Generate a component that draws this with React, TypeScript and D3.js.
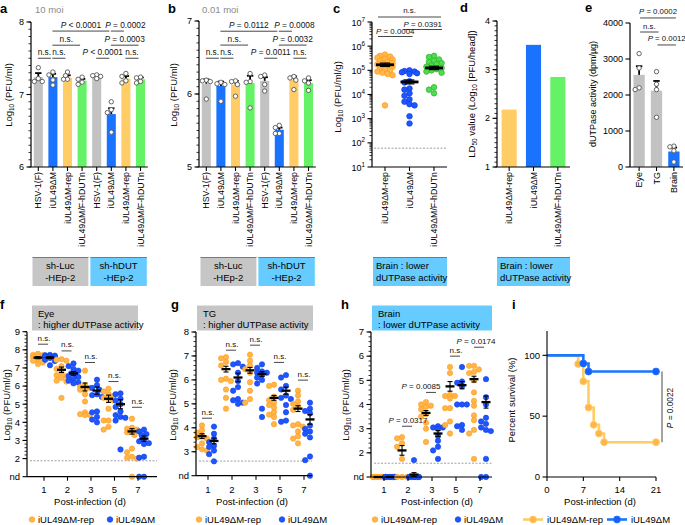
import React from 'react';
import * as d3 from 'd3';

const FONT = "'Liberation Sans', Arial, Helvetica, sans-serif";

// ---------- Panel a / b data ----------
const abLabels = ['HSV-1(F)', 'iUL49ΔM', 'iUL49ΔM-rep', 'iUL49ΔM/F-hDUTn', 'HSV-1(F)', 'iUL49ΔM', 'iUL49ΔM-rep', 'iUL49ΔM/F-hDUTn'];
const aMeans = [7.24, 7.24, 7.23, 7.19, 7.24, 6.73, 7.22, 7.21];
const aSems = [0.055, 0.045, 0.035, 0.025, 0.02, 0.08, 0.035, 0.025];
const aPoints = [
  [7.37, 7.22, 7.18, 7.18],
  [7.31, 7.27, 7.2, 7.13],
  [7.31, 7.26, 7.21, 7.21],
  [7.24, 7.21, 7.17, 7.14],
  [7.27, 7.26, 7.25, 7.22],
  [6.9, 6.79, 6.75, 6.48],
  [7.29, 7.25, 7.19, 7.16],
  [7.24, 7.23, 7.18, 7.16],
];
const aBrackets = [
  { i: 0, j: 1, v: 7.5, label: 'n.s.' },
  { i: 1, j: 2, v: 7.5, label: 'n.s.' },
  { i: 1, j: 3, v: 7.68, label: 'n.s.' },
  { i: 1, j: 5, v: 7.875, label: 'P < 0.0001' },
  { i: 4, j: 5, v: 7.5, label: 'P < 0.0001' },
  { i: 6, j: 7, v: 7.5, label: 'n.s.' },
  { i: 5, j: 6, v: 7.875, label: 'P = 0.0002', dx: 8 },
  { i: 5, j: 7, v: 7.68, label: 'P = 0.0003' },
];
const bMeans = [6.14, 6.11, 6.13, 6.15, 6.18, 5.51, 6.2, 6.15];
const bSems = [0.06, 0.06, 0.05, 0.1, 0.05, 0.03, 0.04, 0.04];
const bPoints = [
  [6.19, 6.18, 6.17, 5.93],
  [6.16, 6.14, 6.13, 5.9],
  [6.18, 6.17, 6.13, 5.97],
  [6.28, 6.17, 6.16, 5.81],
  [6.26, 6.24, 6.13, 6.04],
  [5.57, 5.54, 5.46, 5.46],
  [6.24, 6.22, 6.19, 6.06],
  [6.22, 6.18, 6.15, 6.05],
];
const bBrackets = [
  { i: 0, j: 1, v: 6.49, label: 'n.s.' },
  { i: 1, j: 2, v: 6.49, label: 'n.s.' },
  { i: 1, j: 3, v: 6.67, label: 'n.s.' },
  { i: 1, j: 5, v: 6.86, label: 'P = 0.0112' },
  { i: 4, j: 5, v: 6.49, label: 'P = 0.0011' },
  { i: 6, j: 7, v: 6.49, label: 'n.s.' },
  { i: 5, j: 6, v: 6.86, label: 'P = 0.0008', dx: 9 },
  { i: 5, j: 7, v: 6.67, label: 'P = 0.0032' },
];

// ---------- Panel c ----------
const cLabels = ['iUL49ΔM-rep', 'iUL49ΔM', 'iUL49ΔM/F-hDUTn'];
const cRep = [5.65, 5.6, 5.57, 5.52, 5.48, 5.45, 5.4, 5.35, 5.3, 5.28, 5.25, 5.2, 5.15, 5.1, 5.05, 5.0, 4.95, 4.9, 4.85, 4.8, 3.55];
const cDel = [5.0, 4.97, 4.95, 4.92, 4.88, 4.85, 4.55, 4.5, 4.25, 4.2, 4.05, 3.95, 3.8, 3.7, 3.6, 3.55, 3.1, 2.8];
const cHd = [5.6, 5.55, 5.45, 5.4, 5.35, 5.3, 5.25, 5.2, 5.15, 5.1, 5.05, 5.0, 4.95, 4.9, 4.3, 4.2, 4.05];
const cMeans = [5.23, 4.52, 5.1];
const cSems = [0.07, 0.08, 0.07];
const cLimit = 60;

// ---------- Panel d ----------
const dLabels = ['iUL49ΔM-rep', 'iUL49ΔM', 'iUL49ΔM/F-hDUTn'];
const dValues = [2.18, 3.51, 2.85];

// ---------- Panel e ----------
const eLabels = ['Eye', 'TG', 'Brain'];
const eMeans = [2560, 2120, 430];
const eSems = [240, 270, 110];
const ePoints = [
  [3150, 2750, 2200, 2150],
  [2650, 2300, 2150, 1380],
  [580, 560, 450, 140],
];

// ---------- Panels f, g, h ----------
const days = [1, 2, 3, 5, 7];
const fRep = [
  [7.78, 7.72, 7.7, 7.65, 7.6, 7.55, 7.5, 7.4, 7.3, 7.22],
  [7.48, 7.45, 7.4, 7.1, 6.95, 6.75, 6.6, 6.55, 6.45, 6.3, 6.25, 5.35],
  [6.85, 6.05, 5.95, 5.9, 5.85, 5.8, 5.55, 5.15, 4.55, 4.45, 4.4, 4.4],
  [5.85, 5.7, 5.55, 5.45, 5.35, 5.3, 5.2, 4.75, 4.1, 4.1, 3.75, 3.6],
  [4.2, 3.7, 3.65, 3.6, 3.55, 3.45, 3.3, 2.55, 2.35, 2.1, 2.05, 2.0, 1.0],
];
const fDel = [
  [7.72, 7.7, 7.68, 7.65, 7.62, 7.6, 7.55, 7.45, 7.38, 7.15],
  [7.25, 7.1, 6.95, 6.85, 6.7, 6.6, 6.55, 6.5, 6.4, 6.3, 6.2, 6.15],
  [6.35, 6.05, 5.9, 5.8, 5.55, 5.5, 5.4, 4.6, 4.55, 4.3, 4.15, 4.0],
  [5.6, 5.55, 5.3, 5.2, 5.0, 4.85, 4.6, 4.4, 4.3, 4.25, 4.1, 2.5],
  [3.6, 3.5, 3.35, 3.3, 3.05, 2.95, 2.85, 2.8, 2.1, 2.05, 1.0, 1.0],
];
const fRepMean = [7.57, 6.9, 5.95, 5.3, 3.5];
const fRepSem = [0.06, 0.15, 0.22, 0.2, 0.15];
const fDelMean = [7.57, 6.7, 5.75, 5.0, 3.1];
const fDelSem = [0.05, 0.1, 0.2, 0.25, 0.15];
const fSig = [
  { v: 8.31, label: 'n.s.' }, { v: 7.94, label: 'n.s.' }, { v: 7.3, label: 'n.s.' },
  { v: 6.25, label: 'n.s.' }, { v: 4.83, label: 'n.s.' },
];

const gRep = [
  [4.1, 3.9, 3.8, 3.7, 3.6, 3.55, 3.35, 3.2, 3.1, 3.05],
  [6.95, 6.9, 6.75, 6.6, 6.05, 6.0, 5.95, 5.6, 5.25, 4.8],
  [7.05, 6.8, 6.6, 6.45, 6.3, 5.9, 5.55, 5.2, 5.05],
  [5.8, 5.75, 5.3, 5.15, 5.05, 4.95, 4.85, 4.65, 4.55, 4.45, 4.15],
  [5.55, 5.35, 5.1, 5.0, 4.9, 4.75, 4.15, 4.1, 4.05, 3.85, 3.65, 3.55, 3.35],
];
const gDel = [
  [4.05, 3.75, 3.55, 3.4, 3.25, 3.2, 3.05, 2.9, 2.6],
  [6.7, 6.65, 6.55, 6.3, 5.95, 5.7, 5.55, 5.2, 5.15, 5.05, 5.0],
  [6.65, 6.5, 6.35, 6.3, 6.3, 6.2, 6.1, 6.0, 5.85, 4.8, 4.45],
  [6.2, 6.1, 5.75, 5.6, 5.35, 5.25, 5.2, 4.95, 4.65, 4.3, 4.25],
  [5.05, 4.8, 4.7, 4.6, 4.1, 3.95, 3.85, 3.75, 3.6, 2.8, 2.65, 2.0],
];
const gRepMean = [3.65, 6.45, 6.4, 5.25, 4.8];
const gRepSem = [0.1, 0.12, 0.12, 0.1, 0.12];
const gDelMean = [3.45, 6.1, 6.25, 5.55, 4.35];
const gDelSem = [0.12, 0.18, 0.1, 0.15, 0.2];
const gSig = [
  { v: 4.4, label: 'n.s.' }, { v: 7.24, label: 'n.s.' }, { v: 7.45, label: 'n.s.' },
  { v: 6.73, label: 'n.s.' }, { v: 5.99, label: 'n.s.' },
];

const hRep = [
  [1, 1, 1, 1, 1, 1, 1, 1, 1],
  [2.65, 2.6, 2.4, 2.25, 1.75, 1.0, 1.0, 1.0],
  [4.1, 4.0, 3.95, 3.9, 3.8, 3.6, 3.5, 3.25, 3.0, 2.45],
  [5.55, 5.3, 4.4, 4.35, 4.35, 4.25, 3.85, 3.85, 3.3, 3.15, 2.8],
  [5.6, 5.6, 5.45, 5.35, 5.3, 5.0, 4.5, 4.15, 3.95, 3.55, 3.35, 2.95, 2.8, 1.75],
];
const hDel = [
  [1, 1, 1, 1, 1, 1, 1, 1, 1, 1],
  [1.7, 1, 1, 1, 1, 1, 1, 1, 1],
  [3.1, 3.05, 3.05, 3.0, 2.7, 2.5, 2.25, 2.1, 1.75],
  [5.55, 4.95, 4.9, 4.75, 4.0, 4.0, 4.0, 3.15, 3.1, 2.95],
  [5.05, 4.3, 4.0, 3.45, 3.3, 3.2, 3.05, 2.95, 2.9, 1.75, 1.0, 1.0],
];
const hRepMean = [1.0, 2.1, 3.65, 4.75, 5.05];
const hRepSem = [0, 0.2, 0.1, 0.2, 0.12];
const hDelMean = [1.0, 1.1, 2.8, 4.8, 4.1];
const hDelSem = [0, 0.08, 0.12, 0.15, 0.25];
const hSig = [
  null, { v: 3.1, label: 'P = 0.0317' }, { v: 4.5, label: 'P = 0.0085', dx: -11 },
  { v: 6.0, label: 'n.s.' }, { v: 6.37, label: 'P = 0.0174', dx: -4 },
];

// ---------- Panel i ----------
const iRepDays = [0, 6, 7, 8, 9, 10, 11, 21];
const iRepSurv = [100, 92.9, 78.6, 57.1, 42.9, 35.7, 28.6, 28.6];
const iDelDays = [0, 7, 8, 21];
const iDelSurv = [100, 93.3, 86.7, 86.7];

const COL = {
  gray: '#c2c2c2', blue: '#1a73ff', orange: '#ffcc66', green: '#66f266',
  boxGray: '#c6c6c6', boxBlue: '#66ccff',
};
const barColors = [COL.gray, COL.blue, COL.orange, COL.green, COL.gray, COL.blue, COL.orange, COL.green];

function swarm(vals: number[], ypx: (v: number) => number, cx: number, r: number, maxW: number) {
  const idx = vals.map((_, i) => i).sort((a, b) => vals[b] - vals[a]);
  const placed: [number, number][] = [];
  const out: [number, number][] = new Array(vals.length);
  const step = r * 0.9;
  const dmin = 2 * r * 0.85;
  for (const i of idx) {
    const yy = ypx(vals[i]);
    let best = 0, bestOv = Infinity;
    for (let k = 0; k < 40; k++) {
      const off = (k % 2 === 1 ? -1 : 1) * Math.ceil(k / 2) * step;
      if (Math.abs(off) > maxW) continue;
      let ov = 0;
      for (const [px, py] of placed) {
        const d = Math.hypot(px - cx - off, py - yy);
        if (d < dmin) ov += dmin - d;
      }
      if (ov < bestOv - 1e-9) { bestOv = ov; best = off; }
      if (ov === 0) break;
    }
    out[i] = [cx + best, yy];
    placed.push(out[i]);
  }
  return out;
}

function PLabel({ x, y, label, size = 8.3, anchor = 'middle', transform }: any) {
  if (label.startsWith('P')) {
    return (
      <text x={x} y={y} fontSize={size} textAnchor={anchor} transform={transform} fill="#111">
        <tspan fontStyle="italic">P</tspan>{label.slice(1)}
      </text>
    );
  }
  return <text x={x} y={y} fontSize={size} textAnchor={anchor} transform={transform} fill="#111">{label}</text>;
}

function YLabel({ x, y, pre, sub, post, size = 9.5 }: any) {
  return (
    <text transform={`translate(${x},${y}) rotate(-90)`} textAnchor="middle" fontSize={size} fill="#111">
      {pre}
      {sub !== undefined && <tspan dy={2.2} fontSize={size * 0.68}>{sub}</tspan>}
      {sub !== undefined && <tspan dy={-2.2}>{post}</tspan>}
    </text>
  );
}

function PanelAB({ letter, letterX, title, titleX, axisX, axisEnd, yDom, yTop, means, sems, pts, brackets, ylabelX }: any) {
  const yB = 167;
  const y = d3.scaleLinear().domain(yDom).range([yB, yTop]);
  const xb = d3.scaleBand<number>().domain(d3.range(8)).range([axisX, axisEnd]).paddingInner(0.38).paddingOuter(0.19);
  const cx = (i: number) => (xb(i) as number) + xb.bandwidth() / 2;
  const majors = [yDom[0], yDom[0] + 1, yDom[0] + 2];
  const minors = d3.range(0, 21).map((k) => yDom[0] + k * 0.1);
  const mid = (cx(3) + cx(4)) / 2;
  return (
    <g>
      <text x={letterX} y={13} fontSize={13} fontWeight="bold">{letter}</text>
      <text x={titleX} y={13} fontSize={9.5} fill="#8a8a8a">{title}</text>
      <YLabel x={ylabelX} y={95} pre="Log" sub="10" post=" (PFU/ml)" />
      {means.map((m: number, i: number) => (
        <rect key={i} x={xb(i)} y={y(m)} width={xb.bandwidth()} height={yB - y(m)} fill={barColors[i]} />
      ))}
      {means.map((m: number, i: number) => (
        <g key={'e' + i} stroke="#000" strokeWidth={1.8}>
          <line x1={cx(i)} x2={cx(i)} y1={y(m)} y2={y(m + sems[i])} />
          <line x1={cx(i) - 3.2} x2={cx(i) + 3.2} y1={y(m + sems[i])} y2={y(m + sems[i])} />
        </g>
      ))}
      {pts.map((arr: number[], i: number) =>
        swarm(arr, y, cx(i), 2.2, 4).map(([px, py], k) => (
          <circle key={i + '-' + k} cx={px} cy={py} r={2.2} fill="#fff" stroke="#555" strokeWidth={0.9} />
        ))
      )}
      <line x1={axisX} x2={axisX} y1={yB} y2={yTop} stroke="#000" strokeWidth={1.2} />
      <line x1={axisX} x2={axisEnd} y1={yB} y2={yB} stroke="#000" strokeWidth={1.2} />
      {minors.map((v, k) => (
        <line key={k} x1={axisX - 2.5} x2={axisX} y1={y(v)} y2={y(v)} stroke="#000" strokeWidth={0.8} />
      ))}
      {majors.map((v) => (
        <g key={v}>
          <line x1={axisX - 4.5} x2={axisX} y1={y(v)} y2={y(v)} stroke="#000" strokeWidth={1.1} />
          <text x={axisX - 7} y={y(v)} dy="0.35em" fontSize={9} textAnchor="end">{v}</text>
        </g>
      ))}
      {abLabels.map((l, i) => (
        <g key={'x' + i}>
          <line x1={cx(i)} x2={cx(i)} y1={yB} y2={yB + 4} stroke="#000" strokeWidth={1.1} />
          <text transform={`translate(${cx(i)},${172}) rotate(-90)`} dy="0.35em" fontSize={8.8} textAnchor="end">{l}</text>
        </g>
      ))}
      {brackets.map((b: any, k: number) => {
        const yy = y(b.v);
        const x1 = cx(b.i) - 0.5, x2 = cx(b.j) - 2;
        return (
          <g key={'b' + k}>
            <line x1={x1} x2={x2} y1={yy} y2={yy} stroke="#333" strokeWidth={0.9} />
            <PLabel x={(x1 + x2) / 2 + (b.dx || 0)} y={yy - 3.5} label={b.label} />
          </g>
        );
      })}
      <rect x={axisX + 1.5} y={257} width={mid - axisX - 2.5} height={29} fill={COL.boxGray} />
      <line x1={axisX + 1.5} x2={mid - 1} y1={257.5} y2={257.5} stroke="#7a7a7a" strokeWidth={1.2} />
      <rect x={mid + 1} y={257} width={axisEnd - mid - 2} height={29} fill={COL.boxBlue} />
      <line x1={mid + 1} x2={axisEnd - 1} y1={257.5} y2={257.5} stroke="#7a7a7a" strokeWidth={1.2} />
      <text x={(axisX + mid) / 2} y={269} fontSize={9.5} textAnchor="middle">sh-Luc</text>
      <text x={(axisX + mid) / 2} y={281} fontSize={9.5} textAnchor="middle">-HEp-2</text>
      <text x={(mid + axisEnd) / 2} y={269} fontSize={9.5} textAnchor="middle">sh-hDUT</text>
      <text x={(mid + axisEnd) / 2} y={281} fontSize={9.5} textAnchor="middle">-HEp-2</text>
    </g>
  );
}

function BrainBox({ x0, x1 }: any) {
  return (
    <g>
      <rect x={x0} y={257} width={x1 - x0} height={29} fill={COL.boxBlue} />
      <line x1={x0} x2={x1} y1={257.5} y2={257.5} stroke="#7a7a7a" strokeWidth={1.2} />
      <text x={x0 + 3} y={269} fontSize={9.5}>Brain : lower</text>
      <text x={x0 + 3} y={281} fontSize={9.5}>dUTPase activity</text>
    </g>
  );
}

function PanelC() {
  const axisX = 372, axisEnd = 447, yB = 167;
  const y = d3.scaleLog().domain([10, 1e7]).range([yB, 22]);
  const xb = d3.scalePoint<number>().domain([0, 1, 2]).range([385, 434]);
  const groups = [cRep, cDel, cHd];
  const fills = ['#ffb84d', '#1f55ff', '#4fdc4f'];
  const strokes = ['#ff9a1a', '#0b3fe6', '#2bb02b'];
  const majors = d3.range(1, 8);
  const minors: number[] = [];
  for (let e = 1; e < 7; e++) for (let m = 2; m < 10; m++) minors.push(m * Math.pow(10, e));
  const ylog = (v: number) => y(Math.pow(10, v));
  const cxs = [0, 1, 2].map((i) => xb(i) as number);
  const brk = [
    { x1: cxs[0] - 7, x2: cxs[2] + 7, py: 17, ty: 13, label: 'n.s.' },
    { x1: cxs[1] - 6, x2: cxs[2] + 8, py: 29.5, ty: 26.5, label: 'P = 0.0391' },
    { x1: cxs[0] - 7, x2: cxs[1] + 3, py: 36.5, ty: 34, label: 'P = 0.0004' },
  ];
  return (
    <g>
      <text x={333} y={13} fontSize={13} fontWeight="bold">c</text>
      <YLabel x={341} y={97} pre="Log" sub="10" post=" (PFU/ml/g)" />
      <line x1={axisX + 2} x2={axisEnd} y1={y(cLimit)} y2={y(cLimit)} stroke="#888" strokeWidth={0.8} strokeDasharray="2,1.5" />
      {groups.map((arr, g) =>
        swarm(arr, ylog, cxs[g], 2.8, 9).map(([px, py], k) => (
          <circle key={g + '-' + k} cx={px} cy={py} r={2.8} fill={fills[g]} stroke={strokes[g]} strokeWidth={0.7} />
        ))
      )}
      {cMeans.map((m, g) => (
        <g key={'m' + g} stroke="#000">
          <line x1={cxs[g] - 9} x2={cxs[g] + 9} y1={ylog(m)} y2={ylog(m)} strokeWidth={2.8} />
          <line x1={cxs[g]} x2={cxs[g]} y1={ylog(m - cSems[g])} y2={ylog(m + cSems[g])} strokeWidth={1.4} />
          <line x1={cxs[g] - 5} x2={cxs[g] + 5} y1={ylog(m - cSems[g])} y2={ylog(m - cSems[g])} strokeWidth={1.2} />
          <line x1={cxs[g] - 5} x2={cxs[g] + 5} y1={ylog(m + cSems[g])} y2={ylog(m + cSems[g])} strokeWidth={1.2} />
        </g>
      ))}
      <line x1={axisX} x2={axisX} y1={yB} y2={22} stroke="#000" strokeWidth={1.2} />
      <line x1={axisX} x2={axisEnd} y1={yB} y2={yB} stroke="#000" strokeWidth={1.2} />
      {minors.map((v, k) => (
        <line key={k} x1={axisX - 2.5} x2={axisX} y1={y(v)} y2={y(v)} stroke="#000" strokeWidth={0.8} />
      ))}
      {majors.map((e) => (
        <g key={e}>
          <line x1={axisX - 4.5} x2={axisX} y1={y(Math.pow(10, e))} y2={y(Math.pow(10, e))} stroke="#000" strokeWidth={1.1} />
          <text x={axisX - 7} y={y(Math.pow(10, e)) + 3.5} fontSize={9} textAnchor="end">
            10<tspan dy={-4} fontSize={6.3}>{e}</tspan>
          </text>
        </g>
      ))}
      {cLabels.map((l, i) => (
        <g key={'x' + i}>
          <line x1={cxs[i]} x2={cxs[i]} y1={yB} y2={yB + 4} stroke="#000" strokeWidth={1.1} />
          <text transform={`translate(${cxs[i]},${172}) rotate(-90)`} dy="0.35em" fontSize={8.8} textAnchor="end">{l}</text>
        </g>
      ))}
      {brk.map((b, k) => (
        <g key={'b' + k}>
          <line x1={b.x1} x2={b.x2} y1={b.py} y2={b.py} stroke="#333" strokeWidth={0.9} />
          <PLabel x={(b.x1 + b.x2) / 2} y={b.ty} label={b.label} size={7.9} />
        </g>
      ))}
      <BrainBox x0={373} x1={447} />
    </g>
  );
}

function PanelD() {
  const axisX = 497, axisEnd = 570, yB = 167;
  const y = d3.scaleLinear().domain([1, 4]).range([yB, 21]);
  const xb = d3.scaleBand<number>().domain([0, 1, 2]).range([axisX, axisEnd]).paddingInner(0.38).paddingOuter(0.19);
  const cx = (i: number) => (xb(i) as number) + xb.bandwidth() / 2;
  const cols = [COL.orange, COL.blue, COL.green];
  const minors = d3.range(0, 31).map((k) => 1 + k * 0.1);
  return (
    <g>
      <text x={460} y={12} fontSize={13} fontWeight="bold">d</text>
      <text transform={`translate(${475},${94}) rotate(-90)`} textAnchor="middle" fontSize={9.5}>
        LD<tspan dy={2.2} fontSize={6.5}>50</tspan><tspan dy={-2.2}> value (Log</tspan><tspan dy={2.2} fontSize={6.5}>10</tspan><tspan dy={-2.2}> [PFU/head])</tspan>
      </text>
      {dValues.map((v, i) => (
        <rect key={i} x={xb(i)} y={y(v)} width={xb.bandwidth()} height={yB - y(v)} fill={cols[i]} />
      ))}
      <line x1={axisX} x2={axisX} y1={yB} y2={21} stroke="#000" strokeWidth={1.2} />
      <line x1={axisX} x2={axisEnd} y1={yB} y2={yB} stroke="#000" strokeWidth={1.2} />
      {minors.map((v, k) => (
        <line key={k} x1={axisX - 2.5} x2={axisX} y1={y(v)} y2={y(v)} stroke="#000" strokeWidth={0.8} />
      ))}
      {[1, 2, 3, 4].map((v) => (
        <g key={v}>
          <line x1={axisX - 4.5} x2={axisX} y1={y(v)} y2={y(v)} stroke="#000" strokeWidth={1.1} />
          <text x={axisX - 7} y={y(v)} dy="0.35em" fontSize={9} textAnchor="end">{v}</text>
        </g>
      ))}
      {dLabels.map((l, i) => (
        <g key={'x' + i}>
          <line x1={cx(i)} x2={cx(i)} y1={yB} y2={yB + 4} stroke="#000" strokeWidth={1.1} />
          <text transform={`translate(${cx(i)},${172}) rotate(-90)`} dy="0.35em" fontSize={8.8} textAnchor="end">{l}</text>
        </g>
      ))}
      <BrainBox x0={497} x1={570} />
    </g>
  );
}

function PanelE() {
  const axisX = 630, axisEnd = 683, yB = 167;
  const y = d3.scaleLinear().domain([0, 4000]).range([yB, 23]);
  const xb = d3.scaleBand<number>().domain([0, 1, 2]).range([axisX, axisEnd]).paddingInner(0.35).paddingOuter(0.2);
  const cx = (i: number) => (xb(i) as number) + xb.bandwidth() / 2;
  const cols = [COL.gray, COL.gray, COL.blue];
  const brk = [
    { i: 0, j: 2, v: 4140, label: 'P = 0.0002' },
    { i: 0, j: 1, v: 3750, label: 'n.s.' },
    { i: 1, j: 2, v: 3390, label: 'P = 0.0012' },
  ];
  return (
    <g>
      <text x={585} y={12} fontSize={13} fontWeight="bold">e</text>
      <text transform={`translate(${596},${94}) rotate(-90)`} textAnchor="middle" fontSize={9}>dUTPase activity (dpm/µg)</text>
      {eMeans.map((m, i) => (
        <rect key={i} x={xb(i)} y={y(m)} width={xb.bandwidth()} height={yB - y(m)} fill={cols[i]} />
      ))}
      {eMeans.map((m, i) => (
        <g key={'e' + i} stroke="#000" strokeWidth={1.8}>
          <line x1={cx(i)} x2={cx(i)} y1={y(m)} y2={y(m + eSems[i])} />
          <line x1={cx(i) - 3.2} x2={cx(i) + 3.2} y1={y(m + eSems[i])} y2={y(m + eSems[i])} />
        </g>
      ))}
      {ePoints.map((arr, i) =>
        swarm(arr, y, cx(i), 2.2, 4).map(([px, py], k) => (
          <circle key={i + '-' + k} cx={px} cy={py} r={2.2} fill="#fff" stroke="#555" strokeWidth={0.9} />
        ))
      )}
      <line x1={axisX} x2={axisX} y1={yB} y2={23} stroke="#000" strokeWidth={1.2} />
      <line x1={axisX} x2={axisEnd} y1={yB} y2={yB} stroke="#000" strokeWidth={1.2} />
      {[0, 1000, 2000, 3000, 4000].map((v) => (
        <g key={v}>
          <line x1={axisX - 4.5} x2={axisX} y1={y(v)} y2={y(v)} stroke="#000" strokeWidth={1.1} />
          <text x={axisX - 7} y={y(v)} dy="0.35em" fontSize={9} textAnchor="end">{v}</text>
        </g>
      ))}
      {eLabels.map((l, i) => (
        <g key={'x' + i}>
          <line x1={cx(i)} x2={cx(i)} y1={yB} y2={yB + 4} stroke="#000" strokeWidth={1.1} />
          <text transform={`translate(${cx(i)},${172}) rotate(-90)`} dy="0.35em" fontSize={9} textAnchor="end">{l}</text>
        </g>
      ))}
      {brk.map((b, k) => {
        const yy = y(b.v);
        const x1 = cx(b.i) + 1, x2 = cx(b.j) + 2;
        return (
          <g key={'b' + k}>
            <line x1={x1} x2={x2} y1={yy} y2={yy} stroke="#333" strokeWidth={0.9} />
            <PLabel x={(x1 + x2) / 2} y={yy - 3.5} label={b.label} size={7.8} />
          </g>
        );
      })}
    </g>
  );
}

function ScatterPanel({ letter, letterX, axisX, axisEnd, yDom, yBottom, yTop, xRange, rep, del, repMean, repSem, delMean, delSem, sig, limit, box, ylabelX, legendO, legendB, xlabelX }: any) {
  const y = d3.scaleLinear().domain(yDom).range([yBottom, yTop]);
  const x = d3.scalePoint<number>().domain(days).range(xRange);
  const majors = d3.range(yDom[0] + 1, yDom[1] + 1);
  const minors = d3.range(0, Math.round((yDom[1] - yDom[0] - 1) / 0.2) + 1).map((k) => yDom[0] + 1 + k * 0.2);
  const off = 6;
  const r = 2.7;
  const oF = '#ffb547', oS = '#ff9c1f', bF = '#1f55ff', bS = '#0b3fe6';
  return (
    <g>
      <text x={letterX} y={309} fontSize={13} fontWeight="bold">{letter}</text>
      <rect x={box.x0} y={305.5} width={box.x1 - box.x0} height={25} fill={box.color} />
      <text x={box.x0 + 6} y={317} fontSize={9.5}>{box.l1}</text>
      <text x={box.x0 + 6} y={327.5} fontSize={9.5}>{box.l2}</text>
      <YLabel x={ylabelX} y={405} pre="Log" sub="10" post=" (PFU/ml/g)" />
      <line x1={axisX + 3} x2={axisEnd} y1={y(limit)} y2={y(limit)} stroke="#888" strokeWidth={0.8} strokeDasharray="2,1.5" />
      {days.map((d, di) => {
        const xo = (x(d) as number) - off, xbp = (x(d) as number) + off;
        return (
          <g key={d}>
            {swarm(rep[di], y, xo, r, 5).map(([px, py], k) => (
              <circle key={'o' + k} cx={px} cy={py} r={r} fill={oF} stroke={oS} strokeWidth={0.6} />
            ))}
            {swarm(del[di], y, xbp, r, 5).map(([px, py], k) => (
              <circle key={'b' + k} cx={px} cy={py} r={r} fill={bF} stroke={bS} strokeWidth={0.6} />
            ))}
            {[[xo, repMean[di], repSem[di]], [xbp, delMean[di], delSem[di]]].map(([cx, m, s], k) => (
              <g key={'m' + k} stroke="#000">
                <line x1={cx - 4.5} x2={cx + 4.5} y1={y(m)} y2={y(m)} strokeWidth={2.3} />
                {s > 0 && (
                  <g strokeWidth={1.1}>
                    <line x1={cx} x2={cx} y1={y(m - s)} y2={y(m + s)} />
                    <line x1={cx - 2.5} x2={cx + 2.5} y1={y(m - s)} y2={y(m - s)} />
                    <line x1={cx - 2.5} x2={cx + 2.5} y1={y(m + s)} y2={y(m + s)} />
                  </g>
                )}
              </g>
            ))}
            <line x1={x(d)} x2={x(d)} y1={yBottom} y2={yBottom + 4} stroke="#000" strokeWidth={1.1} />
            <text x={x(d)} y={493} fontSize={9.5} textAnchor="middle">{d}</text>
          </g>
        );
      })}
      {days.map((d, di) => {
        const s = sig[di];
        if (!s) return null;
        const xo = (x(d) as number) - off, xbp = (x(d) as number) + off;
        return (
          <g key={'s' + d}>
            <line x1={xo} x2={xbp - 2} y1={y(s.v)} y2={y(s.v)} stroke="#333" strokeWidth={0.9} />
            <PLabel x={(xo + xbp) / 2 + (s.dx || 0)} y={y(s.v) - 3.5} label={s.label} size={8} />
          </g>
        );
      })}
      <line x1={axisX} x2={axisX} y1={yBottom} y2={yTop} stroke="#000" strokeWidth={1.2} />
      <line x1={axisX} x2={axisEnd} y1={yBottom} y2={yBottom} stroke="#000" strokeWidth={1.2} />
      {minors.map((v, k) => (
        <line key={k} x1={axisX - 2.5} x2={axisX} y1={y(v)} y2={y(v)} stroke="#000" strokeWidth={0.8} />
      ))}
      {majors.map((v) => (
        <g key={v}>
          <line x1={axisX - 4.5} x2={axisX} y1={y(v)} y2={y(v)} stroke="#000" strokeWidth={1.1} />
          <text x={axisX - 7} y={y(v)} dy="0.35em" fontSize={9.5} textAnchor="end">{v}</text>
        </g>
      ))}
      <line x1={axisX - 4.5} x2={axisX} y1={yBottom} y2={yBottom} stroke="#000" strokeWidth={1.1} />
      <text x={axisX - 7} y={yBottom} dy="0.35em" fontSize={9.5} textAnchor="end">nd</text>
      <text x={xlabelX} y={505} fontSize={9.5} textAnchor="middle">Post-infection (d)</text>
      <circle cx={legendO} cy={519.5} r={2.8} fill={oF} stroke={oS} strokeWidth={0.6} />
      <text x={legendO + 6} y={523} fontSize={9.5}>iUL49ΔM-rep</text>
      <circle cx={legendB} cy={519.5} r={2.8} fill={bF} stroke={bS} strokeWidth={0.6} />
      <text x={legendB + 6} y={523} fontSize={9.5}>iUL49ΔM</text>
    </g>
  );
}

function PanelI() {
  const x = d3.scaleLinear().domain([0, 21]).range([547, 656]);
  const y = d3.scaleLinear().domain([0, 120]).range([477, 331]);
  const line = d3.line<[number, number]>().x((d) => x(d[0])).y((d) => y(d[1])).curve(d3.curveStepAfter);
  const rep = iRepDays.map((d, i) => [d, iRepSurv[i]] as [number, number]);
  const del = iDelDays.map((d, i) => [d, iDelSurv[i]] as [number, number]);
  const oF = '#ffb547', oS = '#ffc966', oL = '#ffcc66';
  const bF = '#1a5cff', bS = '#1a75ff', bL = '#1a75ff';
  return (
    <g>
      <text x={512} y={309} fontSize={13} fontWeight="bold">i</text>
      <text transform={`translate(${515},${400}) rotate(-90)`} textAnchor="middle" fontSize={9.5}>Percent survival (%)</text>
      <path d={line(rep) as string} fill="none" stroke={oL} strokeWidth={2.6} />
      <path d={line(del) as string} fill="none" stroke={bL} strokeWidth={2.6} />
      {rep.slice(1).map(([d, s], k) => (
        <circle key={'o' + k} cx={x(d)} cy={y(s)} r={3.4} fill={oF} stroke={oS} strokeWidth={1} />
      ))}
      {del.slice(1).map(([d, s], k) => (
        <circle key={'b' + k} cx={x(d)} cy={y(s)} r={3.4} fill={bF} stroke={bS} strokeWidth={1} />
      ))}
      <line x1={x(0)} x2={x(0)} y1={y(0)} y2={y(120)} stroke="#000" strokeWidth={1.1} />
      <line x1={x(0)} x2={x(21)} y1={y(0)} y2={y(0)} stroke="#000" strokeWidth={1.1} />
      {[0, 50, 100].map((v) => (
        <g key={v}>
          <line x1={x(0) - 4.5} x2={x(0)} y1={y(v)} y2={y(v)} stroke="#000" strokeWidth={1.1} />
          <text x={x(0) - 7} y={y(v)} dy="0.35em" fontSize={9.5} textAnchor="end">{v}</text>
        </g>
      ))}
      {[0, 7, 14, 21].map((v) => (
        <g key={v}>
          <line x1={x(v)} x2={x(v)} y1={y(0)} y2={y(0) + 4} stroke="#000" strokeWidth={1.1} />
          <text x={x(v)} y={493} fontSize={9.5} textAnchor="middle">{v}</text>
        </g>
      ))}
      <text x={600} y={505} fontSize={9.5} textAnchor="middle">Post-infection (d)</text>
      <line x1={662} x2={662} y1={y(86.7)} y2={y(28.6)} stroke="#333" strokeWidth={0.9} />
      <PLabel x={0} y={0} label="P = 0.0022" transform={`translate(${673},${408}) rotate(-90)`} />
      <line x1={523} x2={543} y1={519.5} y2={519.5} stroke={oL} strokeWidth={2.6} />
      <circle cx={533} cy={519.5} r={3.4} fill={oF} stroke={oS} strokeWidth={1} />
      <text x={547} y={523} fontSize={9.5}>iUL49ΔM-rep</text>
      <line x1={607} x2={627} y1={519.5} y2={519.5} stroke={bL} strokeWidth={2.6} />
      <circle cx={617} cy={519.5} r={3.4} fill={bF} stroke={bS} strokeWidth={1} />
      <text x={631} y={523} fontSize={9.5}>iUL49ΔM</text>
    </g>
  );
}

export default function App() {
  return (
    <div style={{ position: 'absolute', left: 0, top: 0 }}>
      <svg width={685} height={525} style={{ display: 'block' }} fontFamily={FONT}>
        <rect width={685} height={525} fill="#fff" />
        <PanelAB letter="a" letterX={0} title="10 moi" titleX={35} axisX={31} axisEnd={147.8}
          yDom={[6, 8]} yTop={22} means={aMeans} sems={aSems} pts={aPoints} brackets={aBrackets} ylabelX={12} />
        <PanelAB letter="b" letterX={168} title="0.01 moi" titleX={202} axisX={199} axisEnd={315.8}
          yDom={[5, 7]} yTop={21} means={bMeans} sems={bSems} pts={bPoints} brackets={bBrackets} ylabelX={177} />
        <PanelC />
        <PanelD />
        <PanelE />
        <ScatterPanel letter="f" letterX={0} axisX={27} axisEnd={157} yDom={[1, 9]} yBottom={476.7} yTop={331.7}
          xRange={[44, 138]} rep={fRep} del={fDel} repMean={fRepMean} repSem={fRepSem} delMean={fDelMean} delSem={fDelSem}
          sig={fSig} limit={1.88} box={{ x0: 32, x1: 138, color: COL.boxGray, l1: 'Eye', l2: ': higher dUTPase activity' }}
          ylabelX={10} legendO={32} legendB={110} xlabelX={90} />
        <ScatterPanel letter="g" letterX={171} axisX={196} axisEnd={312} yDom={[2, 8]} yBottom={475.7} yTop={332}
          xRange={[208, 304]} rep={gRep} del={gDel} repMean={gRepMean} repSem={gRepSem} delMean={gDelMean} delSem={gDelSem}
          sig={gSig} limit={2.61} box={{ x0: 197, x1: 313, color: COL.boxGray, l1: 'TG', l2: ': higher dUTPase activity' }}
          ylabelX={176} legendO={199} legendB={282} xlabelX={252} />
        <ScatterPanel letter="h" letterX={341} axisX={371} axisEnd={492} yDom={[1, 7]} yBottom={477} yTop={332}
          xRange={[384, 480]} rep={hRep} del={hDel} repMean={hRepMean} repSem={hRepSem} delMean={hDelMean} delSem={hDelSem}
          sig={hSig} limit={1.57} box={{ x0: 372, x1: 492, color: COL.boxBlue, l1: 'Brain', l2: ': lower dUTPase activity' }}
          ylabelX={349} legendO={375} legendB={458} xlabelX={437} />
        <PanelI />
      </svg>
    </div>
  );
}
